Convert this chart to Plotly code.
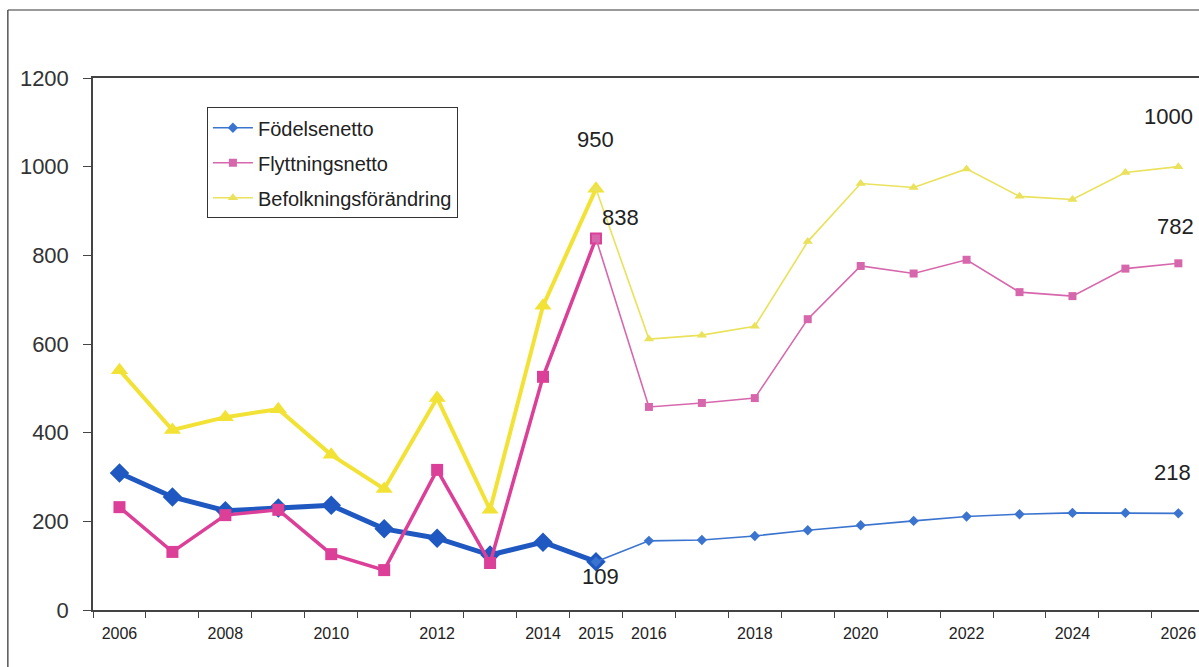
import plotly.graph_objects as go

years = list(range(2006, 2027))
fodelsenetto = [309, 255, 224, 230, 236, 183, 162, 124, 153, 109,
                156, 158, 167, 180, 191, 201, 211, 216, 219, 219, 218]
flyttningsnetto = [232, 131, 214, 226, 126, 90, 316, 106, 526, 838,
                   458, 467, 478, 656, 776, 759, 790, 717, 708, 770, 782]
befolkning = [541, 406, 435, 453, 350, 273, 478, 226, 686, 950,
              611, 620, 640, 831, 962, 953, 995, 933, 926, 987, 1000]
xtick_years = [2006, 2008, 2010, 2012, 2014, 2015, 2016, 2018, 2020, 2022, 2024, 2026]

SPLIT = years.index(2015)
FONT = "Liberation Sans Narrow, Arial Narrow, Liberation Sans, Arial"

series = [
    # name, values, thick colour, thin colour, symbol, big size, small size, thick width
    ("Födelsenetto", fodelsenetto, "#1f58c0", "#3a74cf", "diamond", 15, 8, 5),
    ("Flyttningsnetto", flyttningsnetto, "#dc3f98", "#d767ac", "square", 12, 8, 3.5),
    ("Befolkningsförändring", befolkning, "#f2e236", "#e9e25a", "triangle-up", 15, 9, 4),
]

fig = go.Figure()
for i, (name, vals, c_hist, c_fc, sym, big, small, w) in enumerate(series):
    # historical part, thick
    fig.add_trace(go.Scatter(x=years[:SPLIT + 1], y=vals[:SPLIT + 1], mode="lines+markers",
                             line=dict(color=c_hist, width=w),
                             marker=dict(symbol=sym, size=big, color=c_hist),
                             showlegend=False, hoverinfo="skip"))
    # forecast part, thin
    fig.add_trace(go.Scatter(x=years[SPLIT:], y=vals[SPLIT:], mode="lines+markers",
                             name=name, legendgroup=name, hoverinfo="skip",
                             line=dict(color=c_fc, width=1.6),
                             marker=dict(symbol=sym, size=small, color=c_fc)))

# value labels
labels = [
    (2015, befolkning[SPLIT], 0, 49),
    (2015, flyttningsnetto[SPLIT], 25, 21),
    (2015, fodelsenetto[SPLIT], 5, -15),
    (2026, befolkning[-1], -10, 50),
    (2026, flyttningsnetto[-1], -3, 37),
    (2026, fodelsenetto[-1], -6, 41),
]
for x, v, dx, dy in labels:
    fig.add_annotation(x=x, y=v, text=str(v), showarrow=False, xshift=dx, yshift=dy,
                       font=dict(family=FONT, size=22, color="#222"))

# scanned page frame
fig.add_shape(type="line", xref="paper", yref="paper", x0=-0.077, x1=1.0, y0=1.128, y1=1.128,
              line=dict(color="#777", width=1.5))
fig.add_shape(type="line", xref="paper", yref="paper", x0=-0.077, x1=-0.077, y0=1.128, y1=-0.2,
              line=dict(color="#555", width=1.5))

fig.update_layout(
    width=1199, height=667,
    margin=dict(l=93, r=0, t=78, b=57),
    paper_bgcolor="white", plot_bgcolor="white",
    font=dict(family=FONT, color="#222"),
    legend=dict(x=0.103, y=0.945, xanchor="left", yanchor="top",
                bordercolor="#333", borderwidth=1, bgcolor="white",
                font=dict(family=FONT, size=20, color="#222"),
                traceorder="grouped", tracegroupgap=6, itemwidth=40),
)
fig.update_xaxes(range=[2005.5, 2026.39], tickvals=xtick_years, ticks="",
                 showline=True, linecolor="#444", linewidth=1.5, mirror=True,
                 showgrid=False, zeroline=False, ticklabelstandoff=8,
                 tickfont=dict(family=FONT, size=16, color="#222"),
                 minor=dict(dtick=1, tick0=2005.5, ticks="outside", ticklen=6,
                            tickcolor="#444", showgrid=False))
fig.update_yaxes(range=[0, 1200], dtick=200, ticks="outside", ticklen=8, tickcolor="#444",
                 showline=True, linecolor="#444", linewidth=1.5,
                 showgrid=False, zeroline=False, ticklabelstandoff=10,
                 tickfont=dict(family=FONT, size=22, color="#333"))

fig.write_html("out.html", config={"displayModeBar": False},
               post_script="document.body.style.margin='0';")
